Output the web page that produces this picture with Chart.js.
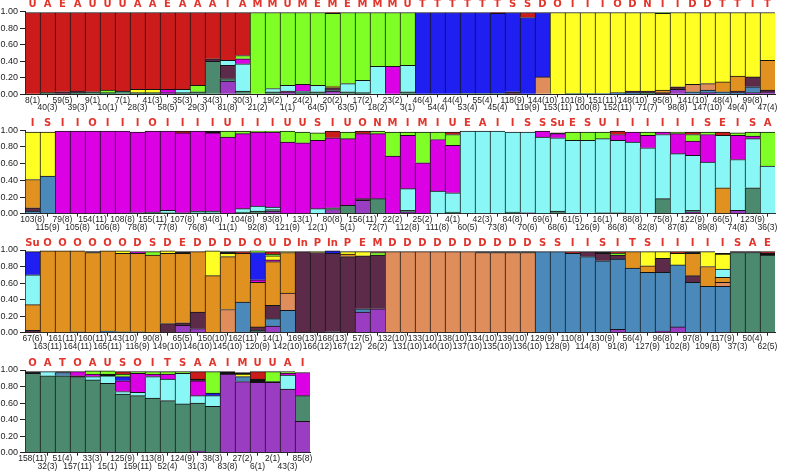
<!DOCTYPE html>
<html>
<head>
<meta charset="utf-8">
<script src="https://cdn.jsdelivr.net/npm/chart.js@4.4.0/dist/chart.umd.min.js"></script>
<style>
  html, body { margin: 0; padding: 0; background: #fff; }
  .row { position: absolute; left: 0; width: 787px; }
</style>
</head>
<body>
<div class="row" style="top:0px;height:114px"><canvas id="row1"></canvas></div>
<div class="row" style="top:114px;height:120px"><canvas id="row2"></canvas></div>
<div class="row" style="top:232px;height:120px"><canvas id="row3"></canvas></div>
<div class="row" style="top:352px;height:120px"><canvas id="row4"></canvas></div>
<script>
// --- population labels (sample size in brackets), one list per row ---
const popRow1 = ['8(1)','40(3)','59(5)','39(3)','9(1)','10(1)','7(1)','28(3)','41(3)','58(5)','35(3)','29(3)','34(3)','81(8)','30(3)','21(2)','19(2)','1(1)','24(2)','64(5)','20(2)','63(5)','17(2)','18(2)','23(2)','3(1)','46(4)','54(4)','44(4)','53(4)','55(4)','45(4)','118(9)','119(9)','144(10)','153(11)','101(8)','100(8)','151(11)','152(11)','148(10)','71(7)','95(8)','98(8)','141(10)','147(10)','48(4)','49(4)','99(8)','47(4)'];
const popRow2 = ['103(8)','115(9)','79(8)','105(8)','154(11)','106(8)','108(8)','78(8)','155(11)','77(8)','107(8)','76(8)','94(8)','11(1)','104(8)','92(8)','93(8)','121(9)','13(1)','12(1)','80(8)','5(1)','156(11)','72(7)','22(2)','112(8)','25(2)','111(8)','4(1)','60(5)','42(3)','73(8)','84(8)','70(6)','69(6)','68(6)','61(5)','126(9)','16(1)','86(8)','88(8)','82(8)','75(8)','87(8)','122(9)','89(8)','66(5)','74(8)','123(9)','36(3)'];
const popRow3 = ['67(6)','163(11)','161(11)','164(11)','160(11)','165(11)','143(10)','116(9)','90(8)','149(10)','65(5)','146(10)','150(10)','145(10)','162(11)','120(9)','14(1)','142(10)','169(13)','166(12)','168(13)','167(12)','57(5)','26(2)','132(10)','131(10)','133(10)','140(10)','138(10)','137(10)','134(10)','135(10)','139(10)','136(10)','129(9)','128(9)','110(8)','114(8)','130(9)','91(8)','56(4)','127(9)','96(8)','102(8)','97(8)','109(8)','117(9)','37(3)','50(4)','62(5)'];
const popRow4 = ['158(11)','32(3)','51(4)','157(11)','33(3)','15(1)','125(9)','159(11)','113(8)','52(4)','124(9)','31(3)','38(3)','83(8)','27(2)','6(1)','2(1)','43(3)','85(8)'];

// --- region codes printed above the bars ---
const codeRow1 = ['U','A','E','A','U','U','U','A','A','E','A','A','A','I','A','M','M','U','M','E','M','E','M','M','M','U','T','T','T','T','T','T','S','S','D','O','I','I','I','O','D','N','I','I','D','D','T','T','I','T'];
const codeRow2 = ['I','S','I','I','O','I','I','I','O','I','I','I','I','U','I','I','I','U','U','S','I','U','O','N','M','I','M','I','U','E','A','I','I','S','S','Su','E','S','U','I','I','I','I','I','I','S','E','I','S','A'];
const codeRow3 = ['Su','O','O','O','O','O','O','D','S','D','E','D','D','D','D','O','U','D','In','P','In','P','E','M','D','D','D','D','D','D','D','D','D','D','S','S','I','I','S','I','T','S','I','I','I','I','I','S','A','E'];
const codeRow4 = ['O','A','T','O','A','U','S','O','I','T','S','A','A','I','M','U','U','A','I'];

// --- membership coefficients per cluster, [row1, row2, row3, row4] ---
const purple = [
  [0,0,0,0,0,0,0,0,0,.02, 0,0,0,.16,0,0,0,.03,0,0, .04,0,0,0,0,0,0,0,0,0, 0,0,0,0,0,0,0,0,0,0, 0,0,0,.06,0,.02,0,0,.02,.03],
  [0,0,0,0,0,0,0,0,0,0, 0,0,0,0,0,0,.03,0,0,0, .05,0,.16,0,0,.02,0,0,0,0, 0,0,0,.01,0,0,0,0,0,0, 0,0,0,0,.02,0,0,.04,0,0],
  [0,0,0,0,0,0,0,0,0,0, .09,.05,0,0,0,.01,.08,0,0,0, 0,0,.25,.29,0,0,0,0,0,0, 0,0,0,0,0,0,0,0,0,.04, 0,0,.02,.07,0,0,0,0,0,0],
  [0,0,0,0,0,.01,0,0,0,0, 0,.02,0,.95,.86,.85,.85,.77,.38]
];
const darkGreen = [
  [0,.02,0,.02,.03,.02,.04,.02,.02,0, .02,.03,.40,.03,.04,0,.03,0,.02,.03, .01,.03,.02,0,0,.03,0,0,0,.01, .01,.01,0,0,0,0,.01,.01,0,0, 0,.02,0,0,0,0,0,0,0,0],
  [0,0,0,0,0,0,0,.01,.02,.01, .01,.01,.01,0,.02,.03,.02,0,0,0, .02,.10,0,.18,0,.02,0,0,.02,0, 0,0,.02,0,0,.03,0,0,.01,.01, 0,0,.18,0,.02,0,0,0,.31,0],
  [0,0,0,.01,0,0,.01,.01,0,0, 0,0,0,0,0,.02,0,0,0,0, 0,0,0,0,0,0,0,0,0,0, 0,0,0,0,0,0,0,0,0,0, 0,0,0,0,0,0,0,.97,.97,.94],
  [.96,.93,.93,.92,.88,.83,.71,.69,.66,.63, .59,.58,.56,0,0,0,0,0,.31]
];
const steelBlue = [
  [0,0,0,0,0,0,0,0,0,0, 0,0,0,0,0,0,0,0,0,0, 0,0,0,0,0,0,0,0,0,0, 0,0,0,0,0,0,0,0,.01,.02, .02,0,0,0,.03,.03,.03,.02,.07,0],
  [.03,.45,0,0,0,0,0,0,0,0, 0,0,0,0,0,0,0,0,0,0, 0,0,0,0,0,0,0,0,0,0, 0,0,0,0,0,0,0,0,0,0, 0,0,0,0,0,0,0,0,0,0],
  [0,0,0,0,0,.02,0,0,0,0, 0,0,0,0,.37,0,.09,.27,0,0, .01,0,.04,0,0,0,0,0,0,0, 0,0,0,0,.98,.98,.96,.92,.87,.85, .78,.73,.71,.75,.61,.56,.56,0,0,0],
  [0,0,.04,0,0,0,0,0,0,0, 0,0,0,0,.06,0,0,0,0]
];
const maroon = [
  [0,0,.03,.02,0,0,0,0,0,0, 0,0,.03,.16,0,0,0,.01,0,0, .03,0,0,0,0,0,0,0,0,0, 0,0,.03,0,0,0,0,0,0,0, .02,.02,.02,.03,0,0,0,.02,.12,.02],
  [.04,0,0,0,0,0,0,0,0,0, 0,0,0,0,0,0,0,0,0,0, 0,0,.02,0,0,0,0,0,0,0, 0,0,0,0,0,0,0,0,0,0, 0,0,0,0,0,0,0,0,0,0],
  [.03,0,0,0,0,0,0,0,0,.11, .03,.20,0,0,0,.04,.16,0,.98,.97, .95,.92,.64,.65,0,0,0,0,0,0, 0,0,0,0,0,0,0,.06,.09,.05, 0,0,.17,0,.08,0,0,0,0,0],
  [0,0,0,.01,0,0,0,0,0,0, 0,0,0,0,0,0,0,0,0]
];
const tan = [
  [0,0,0,0,0,0,0,0,0,0, 0,0,0,0,0,0,0,0,0,0, 0,0,0,0,0,0,0,0,0,0, 0,0,0,0,.21,0,0,0,0,0, 0,0,0,0,.09,.08,0,0,0,0],
  [0,0,0,0,0,0,0,0,0,0, 0,0,0,0,0,0,0,0,0,0, 0,0,0,0,0,0,0,0,0,0, 0,0,0,0,0,0,0,0,0,0, 0,0,0,0,0,0,0,0,0,0],
  [0,0,0,0,0,0,0,0,0,0, 0,0,0,.28,0,0,0,.21,0,0, 0,0,0,0,.98,.98,.98,.98,.98,.98, .97,.97,.97,.97,0,0,0,0,0,0, 0,0,0,0,0,0,.05,0,0,0],
  [0,0,0,0,0,0,0,0,0,0, 0,0,0,0,0,0,0,0,0]
];
const orange = [
  [0,0,0,0,0,0,0,0,0,0, 0,0,0,0,0,0,0,0,0,0, 0,0,0,0,0,0,0,0,0,0, 0,0,0,0,0,0,0,0,0,0, 0,0,.03,0,0,0,.12,.18,0,.36],
  [.34,0,0,0,0,0,0,0,0,0, 0,0,0,0,0,0,0,0,0,0, 0,0,0,0,0,0,0,0,0,0, 0,0,0,0,0,0,0,0,0,0, 0,0,0,0,0,0,.31,0,0,0],
  [.31,.99,.99,.98,.97,.97,.95,.95,.94,.85, .84,.73,.69,.64,.59,.54,.53,.49,0,0, 0,.03,0,0,0,0,0,0,0,0, 0,0,0,0,0,0,0,0,0,0, .20,.08,0,0,.27,.24,.06,0,0,0],
  [0,0,0,0,0,0,0,0,0,0, 0,0,0,0,0,0,0,0,0]
];
const cyan = [
  [0,0,0,0,0,0,0,0,0,0, .04,0,0,.06,.33,0,.04,.07,.02,.08, 0,.10,.15,.34,0,.32,0,0,0,0, 0,0,0,0,0,0,0,0,0,0, 0,0,0,0,0,0,0,0,0,0],
  [0,0,0,0,0,0,0,0,0,.03, 0,.02,.02,0,.04,.06,.03,0,0,.06, 0,0,0,0,0,.26,0,.27,.23,.99, .99,.99,.96,.97,.92,.88,.88,.88,.89,.87, .86,.79,.77,.72,.66,.62,.63,.61,.59,.57],
  [.36,0,0,0,0,0,0,0,0,0, 0,0,0,0,0,0,0,0,0,0, 0,0,0,0,0,0,0,0,0,0, 0,0,0,0,0,0,0,0,0,0, 0,0,0,0,0,0,.10,0,0,0],
  [0,.05,0,0,.04,.09,.03,.04,.26,.26, .37,.09,.13,0,0,0,0,.17,0]
];
const magenta = [
  [0,0,0,0,0,0,0,0,0,.04, 0,0,0,0,.06,0,0,0,.08,0, 0,0,0,0,.34,0,0,0,0,0, 0,0,0,0,0,0,0,0,0,0, 0,0,0,0,0,0,0,0,0,0],
  [0,0,.99,.99,.99,.99,.99,.97,.97,.95, .96,.96,.94,.92,.90,.89,.90,.86,.85,.82, .84,.80,.78,.78,.69,.64,.61,.62,.57,0, 0,0,0,0,.07,.05,0,0,0,.07, .12,.15,.03,.24,.17,.33,0,.29,.03,0],
  [0,0,0,0,0,0,0,.02,0,0, 0,0,0,0,0,.03,.02,0,0,0, 0,0,0,0,0,0,0,0,0,0, 0,0,0,0,0,0,0,0,0,0, 0,0,0,0,0,0,0,0,0,0],
  [0,0,0,.05,.03,0,.13,.23,.03,.06, 0,.18,0,0,0,0,0,.02,.28]
];
const yellow = [
  [0,0,0,0,0,0,0,.04,.04,0, 0,0,0,0,0,0,0,0,0,0, .02,0,0,0,0,0,0,0,0,0, 0,0,0,0,0,.99,.98,.98,.98,.97, .95,.95,.93,.90,.87,.86,.84,.77,.78,.58],
  [.57,.53,0,0,0,0,0,0,0,0, 0,0,0,0,0,0,0,0,0,0, 0,0,0,0,0,0,0,0,0,0, 0,0,0,0,0,0,0,0,0,0, 0,0,0,0,0,0,0,0,0,0],
  [0,0,0,0,0,0,.03,0,0,.03, 0,0,.30,.04,0,0,.05,.01,0,.01, 0,.03,.05,0,0,0,0,0,0,0, 0,0,0,0,0,0,0,0,0,0, 0,.17,.08,.14,0,.18,.18,0,0,0],
  [0,0,0,0,0,0,0,0,0,0, 0,0,0,0,.03,0,0,0,0]
];
const blue = [
  [0,0,0,0,0,0,0,0,0,0, 0,0,0,0,0,0,0,0,0,0, 0,0,0,0,0,0,.99,.99,.99,.98, .98,.97,.96,.93,.78,0,0,0,0,0, 0,0,0,0,0,0,0,0,0,0],
  [0,0,0,0,0,0,0,0,0,0, 0,0,0,0,0,0,0,0,0,0, 0,0,0,0,0,0,0,0,0,0, 0,0,0,0,0,0,0,0,0,0, 0,0,0,0,0,0,0,0,0,0],
  [.28,0,0,0,0,0,0,0,0,0, 0,0,0,0,0,.33,0,0,0,0, .03,0,0,0,0,0,0,0,0,0, 0,0,0,0,0,0,0,0,0,0, 0,0,0,0,0,0,0,0,0,0],
  [0,0,0,0,0,0,.05,0,0,0, 0,0,.03,0,0,0,0,0,0]
];
const black = [
  [0,0,0,0,0,0,0,0,0,0, 0,0,0,0,0,0,0,0,0,0, 0,0,0,0,0,0,0,0,0,0, 0,0,0,0,0,0,0,0,0,0, 0,0,0,0,0,0,0,0,0,0],
  [0,0,0,0,0,0,0,0,0,0, 0,0,.02,0,0,0,0,0,0,0, 0,0,0,0,0,0,0,0,0,0, 0,0,0,0,0,.01,0,0,0,0, 0,0,0,0,0,0,0,0,0,0],
  [0,0,0,0,.01,0,0,0,0,0, .02,0,0,.02,0,0,0,0,0,0, 0,0,0,0,0,0,0,0,0,0, .01,.01,.01,.01,0,0,0,0,.02,0, 0,0,0,0,.02,0,.01,.01,.01,.02],
  [.02,0,.01,0,0,.02,0,0,0,0, 0,.02,0,.03,.02,.04,.01,0,0]
];
const green = [
  [0,0,0,0,0,.03,0,0,0,0, 0,.08,0,0,.04,.99,.92,.88,.87,.88, .88,.86,.82,.65,.65,.64,0,0,0,0, 0,0,0,0,0,0,0,0,0,0, 0,0,.01,0,0,0,0,0,0,0],
  [0,0,0,0,0,0,0,0,0,0, 0,0,0,.07,.03,.01,.01,.13,.13,.09, 0,.08,0,.03,.29,.04,.37,.09,.13,0, 0,0,0,0,0,0,.10,.10,.08,0, 0,.04,0,.02,.08,.03,0,.03,.05,.41],
  [0,0,0,0,0,0,0,0,.04,0, 0,0,0,0,0,.02,.02,0,0,0, 0,0,0,.03,0,0,0,0,0,0, 0,0,0,0,0,0,0,0,0,.02, 0,0,0,0,0,0,0,0,0,0],
  [0,0,0,0,.04,.04,.03,.02,.03,.03, .02,0,.26,0,0,0,.12,.02,0]
];
const red = [
  [.99,.97,.96,.95,.96,.94,.95,.93,.93,.93, .93,.88,.56,.58,.52,0,0,0,0,0, .01,0,0,0,0,0,0,0,0,0, 0,.01,0,.06,0,0,0,0,0,0, 0,0,0,0,0,0,0,0,0,0],
  [0,0,0,0,0,0,0,0,0,0, .02,0,0,0,0,0,0,0,0,0, .08,0,.03,0,0,0,0,0,.03,0, 0,0,0,0,0,0,0,0,0,.04, 0,0,0,0,.03,0,.04,0,0,0],
  [0,0,0,0,0,0,0,0,0,0, 0,0,0,0,.02,0,.03,0,0,0, 0,0,0,.01,0,0,0,0,0,0, 0,0,0,0,0,0,.02,0,0,.02, 0,0,0,.02,0,0,0,0,0,.02],
  [0,0,0,0,0,0,.03,0,0,0, 0,.09,0,0,0,.09,0,0,0]
];

// stacking order, bottom to top
const clusters = [
  { name: 'K1', values: purple, color: '#9a3dc3' },
  { name: 'K2', values: darkGreen, color: '#4b8a6f' },
  { name: 'K3', values: steelBlue, color: '#4a89b9' },
  { name: 'K4', values: maroon, color: '#5c2b4a' },
  { name: 'K5', values: tan, color: '#df8e5b' },
  { name: 'K6', values: orange, color: '#e0911f' },
  { name: 'K7', values: cyan, color: '#8af7f7' },
  { name: 'K8', values: magenta, color: '#dc00e4' },
  { name: 'K9', values: yellow, color: '#ffff24' },
  { name: 'K10', values: blue, color: '#1f1ff2' },
  { name: 'K11', values: black, color: '#111111' },
  { name: 'K12', values: green, color: '#80ff26' },
  { name: 'K13', values: red, color: '#cb1b1b' }
];

const rows = [
  { canvas: 'row1', pops: popRow1, codes: codeRow1, topH: 11.7, bottomH: 19.7, right: 775 },
  { canvas: 'row2', pops: popRow2, codes: codeRow2, topH: 16.3, bottomH: 20.3, right: 775 },
  { canvas: 'row3', pops: popRow3, codes: codeRow3, topH: 18, bottomH: 19.3, right: 775 },
  { canvas: 'row4', pops: popRow4, codes: codeRow4, topH: 18, bottomH: 19.3, right: 310 }
];

const smallFont = "'Liberation Sans Narrow', 'Liberation Sans', Arial, sans-serif";

rows.forEach((row, r) => {
  const datasets = clusters.map(c => ({
    label: c.name,
    data: c.values[r],
    backgroundColor: c.color,
    borderColor: '#141414',
    borderWidth: { top: 1, left: 1, right: 0, bottom: 0 },
    borderSkipped: false,
    barPercentage: 1,
    categoryPercentage: 1
  }));

  new Chart(document.getElementById(row.canvas), {
    type: 'bar',
    data: { labels: row.pops, datasets },
    options: {
      responsive: true,
      maintainAspectRatio: false,
      animation: false,
      events: [],
      layout: { padding: { left: 0, top: 0, bottom: 0, right: 787 - row.right } },
      plugins: { legend: { display: false }, tooltip: { enabled: false } },
      scales: {
        x: {
          stacked: true,
          offset: true,
          grid: {
            offset: false,
            drawOnChartArea: false,
            drawTicks: true,
            tickLength: 3,
            color: ctx => (ctx.index % 2 ? '#222' : 'rgba(0,0,0,0)')
          },
          border: { display: true, color: '#222', width: 1 },
          ticks: {
            autoSkip: false,
            maxRotation: 0,
            minRotation: 0,
            padding: -0.5,
            color: '#222',
            font: { family: smallFont, size: 8.5, lineHeight: 0.88 },
            callback: (v, i) => (i % 2 ? ['', row.pops[i]] : row.pops[i])
          },
          afterFit: s => { s.height = row.bottomH; }
        },
        x2: {
          type: 'category',
          position: 'top',
          labels: row.codes,
          offset: true,
          grid: { display: false, drawTicks: false },
          border: { display: false },
          ticks: {
            autoSkip: false,
            maxRotation: 0,
            minRotation: 0,
            padding: 1,
            color: '#e2352c',
            font: { family: "'DejaVu Sans', sans-serif", weight: 'bold', size: 10, lineHeight: 1.2 }
          },
          afterFit: s => { s.height = row.topH; }
        },
        y: {
          stacked: true,
          min: 0,
          max: 1,
          grid: { drawOnChartArea: false, tickLength: 5, color: '#222' },
          border: { display: true, color: '#222', width: 1 },
          ticks: {
            stepSize: 0.2,
            padding: 2,
            color: '#222',
            font: { family: smallFont, size: 9 },
            callback: v => v.toFixed(2)
          },
          afterFit: s => { s.width = 25; }
        }
      }
    }
  });
});
</script>
</body>
</html>
